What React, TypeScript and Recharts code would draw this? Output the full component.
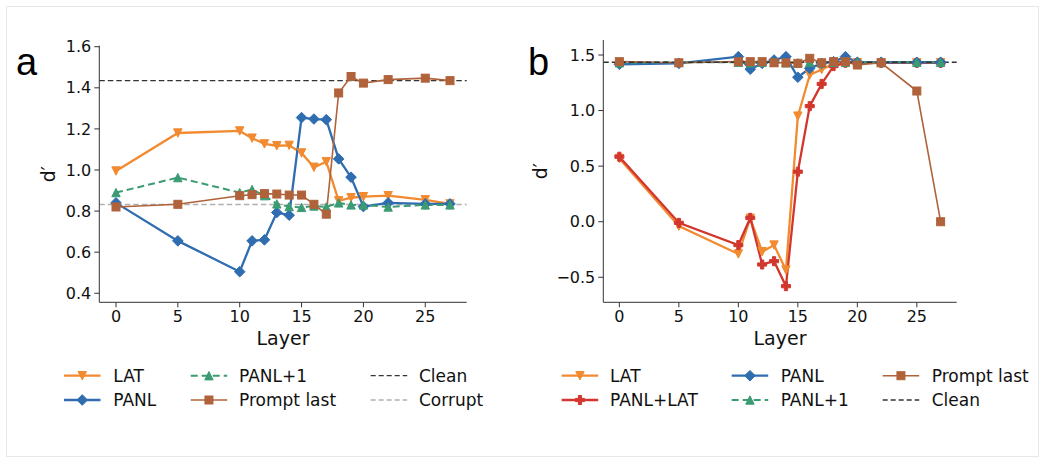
import { LineChart, Line, XAxis, YAxis, ReferenceLine } from 'recharts';

// layers sampled in both panels
const layers = [0, 5, 10, 11, 12, 13, 14, 15, 16, 17, 18, 19, 20, 22, 25, 27];

// panel a
const latA = [0.995, 1.18, 1.19, 1.155, 1.127, 1.118, 1.12, 1.083, 1.013, 1.04, 0.85, 0.865, 0.87, 0.875, 0.855, 0.835];
const panlA = [0.84, 0.655, 0.505, 0.655, 0.66, 0.793, 0.78, 1.255, 1.248, 1.245, 1.054, 0.965, 0.822, 0.84, 0.835, 0.835];
const panl1A = [0.89, 0.963, 0.89, 0.905, 0.875, 0.835, 0.822, 0.818, 0.825, 0.82, 0.84, 0.83, 0.83, 0.82, 0.83, 0.83];
const promptA = [0.82, 0.833, 0.875, 0.88, 0.885, 0.883, 0.878, 0.878, 0.833, 0.785, 1.375, 1.455, 1.423, 1.44, 1.447, 1.435];
const cleanA = 1.435;
const corruptA = 0.832;

// panel b
const latB = [0.57, -0.04, -0.29, 0.03, -0.27, -0.21, -0.435, 0.95, 1.32, 1.37, 1.42, 1.43, 1.43, 1.43, 1.43, 1.43];
const panlLatB = [0.585, -0.01, -0.21, 0.035, -0.385, -0.355, -0.58, 0.45, 1.04, 1.24, 1.4, 1.43, 1.43, 1.43, 1.43, 1.43];
const panlB = [1.417, 1.425, 1.485, 1.372, 1.425, 1.455, 1.485, 1.3, 1.38, 1.425, 1.44, 1.485, 1.435, 1.435, 1.435, 1.435];
const panl1B = [1.43, 1.435, 1.435, 1.43, 1.435, 1.435, 1.43, 1.43, 1.435, 1.43, 1.435, 1.435, 1.435, 1.435, 1.435, 1.435];
const promptB = [1.44, 1.43, 1.44, 1.44, 1.44, 1.43, 1.43, 1.425, 1.47, 1.43, 1.44, 1.44, 1.41, 1.43, 1.176, 0.0];
const cleanB = 1.435;

const xTicks = [0, 5, 10, 15, 20, 25];
const yTicksA = [0.4, 0.6, 0.8, 1.0, 1.2, 1.4, 1.6];
const yTicksB = [-0.5, 0, 0.5, 1.0, 1.5];

const C = {
    lat: '#f28a30',
    panl: '#2f6db0',
    panl1: '#3b9b72',
    prompt: '#b0623a',
    panlLat: '#d2372e',
    clean: '#333333',
    corrupt: '#b0b0b0',
};

const FONT = '"DejaVu Sans", sans-serif';

const dataA = layers.map((layer, i) => ({
    layer, lat: latA[i], panl: panlA[i], panl1: panl1A[i], prompt: promptA[i],
}));
const dataB = layers.map((layer, i) => ({
    layer, lat: latB[i], panlLat: panlLatB[i], panl: panlB[i], panl1: panl1B[i], prompt: promptB[i],
}));

type Shape = 'v' | '^' | 'D' | 's' | 'P';

function Marker({ shape, cx, cy, color }: { shape: Shape; cx: number; cy: number; color: string }) {
    const common = { fill: color, stroke: color, strokeWidth: 1 };
    if (shape === 's') {
        return <rect x={cx - 4} y={cy - 4} width={8} height={8} {...common} />;
    }
    if (shape === 'D') {
        const h = 5.3;
        return <polygon points={`${cx},${cy - h} ${cx + h},${cy} ${cx},${cy + h} ${cx - h},${cy}`} {...common} />;
    }
    if (shape === 'v') {
        const h = 4.2;
        return <polygon points={`${cx - h},${cy - h} ${cx + h},${cy - h} ${cx},${cy + h}`} {...common} />;
    }
    if (shape === '^') {
        const h = 4.2;
        return <polygon points={`${cx - h},${cy + h} ${cx + h},${cy + h} ${cx},${cy - h}`} {...common} />;
    }
    // filled plus
    const a = 4.5, t = 1.6;
    return (
        <polygon
            points={[
                [cx - t, cy - a], [cx + t, cy - a], [cx + t, cy - t], [cx + a, cy - t],
                [cx + a, cy + t], [cx + t, cy + t], [cx + t, cy + a], [cx - t, cy + a],
                [cx - t, cy + t], [cx - a, cy + t], [cx - a, cy - t], [cx - t, cy - t],
            ].map(p => p.join(',')).join(' ')}
            {...common}
        />
    );
}

const dot = (shape: Shape, color: string) => (props: any) => {
    const { cx, cy, index } = props;
    if (cx == null || cy == null) return <g key={`d-${index}`} />;
    return <Marker key={`d-${index}`} shape={shape} cx={cx} cy={cy} color={color} />;
};

const fmtA = (v: number) => v.toFixed(1);
const fmtB = (v: number) => (v < 0 ? '\u2212' + Math.abs(v).toFixed(1) : v.toFixed(1));

const tickStyle = { fontSize: 16, fill: '#111', fontFamily: FONT };
const axisStroke = { stroke: '#333', strokeWidth: 1 };

const xLabel = (props: any) => {
    const vb = props.viewBox;
    return (
        <text x={vb.x + vb.width / 2} y={vb.y + vb.height + 13} textAnchor="middle" fontSize={19} fontFamily={FONT} fill="#111">
            Layer
        </text>
    );
};

const yLabel = (dx: number) => (props: any) => {
    const vb = props.viewBox;
    const x = vb.x + dx;
    const y = vb.y + vb.height / 2;
    return (
        <text x={x} y={y} transform={`rotate(-90 ${x} ${y})`} textAnchor="middle" dy="0.35em" fontSize={19} fontFamily={FONT} fill="#111">
            d′
        </text>
    );
};

function PanelA() {
    return (
        <LineChart
            width={480}
            height={350}
            data={dataA}
            margin={{ top: 45.7, right: 13.3, left: 39.3, bottom: 17.7 }}
            style={{ position: 'absolute', left: 0, top: 0 }}
        >
            <XAxis
                type="number" dataKey="layer" domain={[-1.35, 28.35]} ticks={xTicks} interval={0}
                allowDataOverflow height={30} tick={tickStyle} tickLine={axisStroke} axisLine={axisStroke}
                tickSize={5} tickMargin={3} label={xLabel}
            />
            <YAxis
                type="number" domain={[0.356, 1.605]} ticks={yTicksA} interval={0} allowDataOverflow
                width={60} tick={tickStyle} tickLine={axisStroke} axisLine={axisStroke} tickSize={5} tickMargin={3}
                tickFormatter={fmtA} label={yLabel(8.7)}
            />
            <ReferenceLine y={cleanA} stroke={C.clean} strokeDasharray="5.5 3" strokeWidth={1.3} />
            <ReferenceLine y={corruptA} stroke={C.corrupt} strokeDasharray="5.5 3" strokeWidth={1.3} />
            <Line type="linear" dataKey="lat" stroke={C.lat} strokeWidth={2.3} dot={dot('v', C.lat)} activeDot={false} isAnimationActive={false} />
            <Line type="linear" dataKey="panl" stroke={C.panl} strokeWidth={2.3} dot={dot('D', C.panl)} activeDot={false} isAnimationActive={false} />
            <Line type="linear" dataKey="panl1" stroke={C.panl1} strokeWidth={2} strokeDasharray="7 4" dot={dot('^', C.panl1)} activeDot={false} isAnimationActive={false} />
            <Line type="linear" dataKey="prompt" stroke={C.prompt} strokeWidth={1.6} dot={dot('s', C.prompt)} activeDot={false} isAnimationActive={false} />
        </LineChart>
    );
}

function PanelB() {
    return (
        <LineChart
            width={480}
            height={350}
            data={dataB}
            margin={{ top: 40, right: 23.3, left: 43.3, bottom: 17.7 }}
            style={{ position: 'absolute', left: 500, top: 0 }}
        >
            <XAxis
                type="number" dataKey="layer" domain={[-1.35, 28.35]} ticks={xTicks} interval={0}
                allowDataOverflow height={30} tick={tickStyle} tickLine={axisStroke} axisLine={axisStroke}
                tickSize={5} tickMargin={3} label={xLabel}
            />
            <YAxis
                type="number" domain={[-0.725, 1.635]} ticks={yTicksB} interval={0} allowDataOverflow
                width={60} tick={tickStyle} tickLine={axisStroke} axisLine={axisStroke} tickSize={5} tickMargin={3}
                tickFormatter={fmtB} label={yLabel(-3.3)}
            />
            <Line type="linear" dataKey="lat" stroke={C.lat} strokeWidth={2.3} dot={dot('v', C.lat)} activeDot={false} isAnimationActive={false} />
            <Line type="linear" dataKey="panlLat" stroke={C.panlLat} strokeWidth={2.3} dot={dot('P', C.panlLat)} activeDot={false} isAnimationActive={false} />
            <Line type="linear" dataKey="panl" stroke={C.panl} strokeWidth={2.3} dot={dot('D', C.panl)} activeDot={false} isAnimationActive={false} />
            <Line type="linear" dataKey="panl1" stroke={C.panl1} strokeWidth={2} strokeDasharray="7 4" dot={dot('^', C.panl1)} activeDot={false} isAnimationActive={false} />
            <Line type="linear" dataKey="prompt" stroke={C.prompt} strokeWidth={1.6} dot={dot('s', C.prompt)} activeDot={false} isAnimationActive={false} />
            <ReferenceLine y={cleanB} stroke={C.clean} strokeDasharray="5.5 3" strokeWidth={1.3} />
        </LineChart>
    );
}

type LegendItem = { label: string; color: string; shape?: Shape; dash?: string; width?: number };

const legendA: LegendItem[][] = [
    [{ label: 'LAT', color: C.lat, shape: 'v' }, { label: 'PANL', color: C.panl, shape: 'D' }],
    [{ label: 'PANL+1', color: C.panl1, shape: '^', dash: '7 4', width: 2 }, { label: 'Prompt last', color: C.prompt, shape: 's', width: 1.6 }],
    [{ label: 'Clean', color: C.clean, dash: '5 3', width: 1.3 }, { label: 'Corrupt', color: C.corrupt, dash: '5 3', width: 1.3 }],
];
const legendB: LegendItem[][] = [
    [{ label: 'LAT', color: C.lat, shape: 'v' }, { label: 'PANL+LAT', color: C.panlLat, shape: 'P' }],
    [{ label: 'PANL', color: C.panl, shape: 'D' }, { label: 'PANL+1', color: C.panl1, shape: '^', dash: '7 4', width: 2 }],
    [{ label: 'Prompt last', color: C.prompt, shape: 's', width: 1.6 }, { label: 'Clean', color: C.clean, dash: '5 3', width: 1.3 }],
];

function LegendBlock({ cols, handleX, textX }: { cols: LegendItem[][]; handleX: number[]; textX: number[] }) {
    const rows = [375.7, 400];
    const len = 36.5;
    return (
        <g>
            {cols.map((col, ci) =>
                col.map((item, ri) => {
                    const y = rows[ri];
                    const x0 = handleX[ci];
                    return (
                        <g key={`${ci}-${ri}`}>
                            <line x1={x0} x2={x0 + len} y1={y} y2={y} stroke={item.color} strokeWidth={item.width ?? 2.3} strokeDasharray={item.dash} />
                            {item.shape && <Marker shape={item.shape} cx={x0 + len / 2} cy={y} color={item.color} />}
                            <text x={textX[ci]} y={y} dy="0.36em" fontSize={17} fontFamily={FONT} fill="#111">{item.label}</text>
                        </g>
                    );
                })
            )}
        </g>
    );
}

export default function App() {
    return (
        <div style={{ position: 'absolute', left: 0, top: 0, width: 1045, height: 463, background: '#fff', fontFamily: FONT }}>
            <PanelA />
            <PanelB />
            <svg width={1045} height={463} style={{ position: 'absolute', left: 0, top: 0, pointerEvents: 'none' }}>
                <rect x={6.5} y={6.5} width={1032} height={450} fill="none" stroke="#e8e8e8" strokeWidth={1} />
                <text x={16} y={75} fontSize={38} fontFamily='"Liberation Sans", Arial, sans-serif' fill="#000">a</text>
                <text x={528} y={75} fontSize={38} fontFamily='"Liberation Sans", Arial, sans-serif' fill="#000">b</text>
                <LegendBlock cols={legendA} handleX={[64, 190.7, 370.7]} textX={[113.3, 239, 419]} />
                <LegendBlock cols={legendB} handleX={[561.7, 731.7, 882.7]} textX={[610, 780.7, 931.7]} />
            </svg>
        </div>
    );
}
